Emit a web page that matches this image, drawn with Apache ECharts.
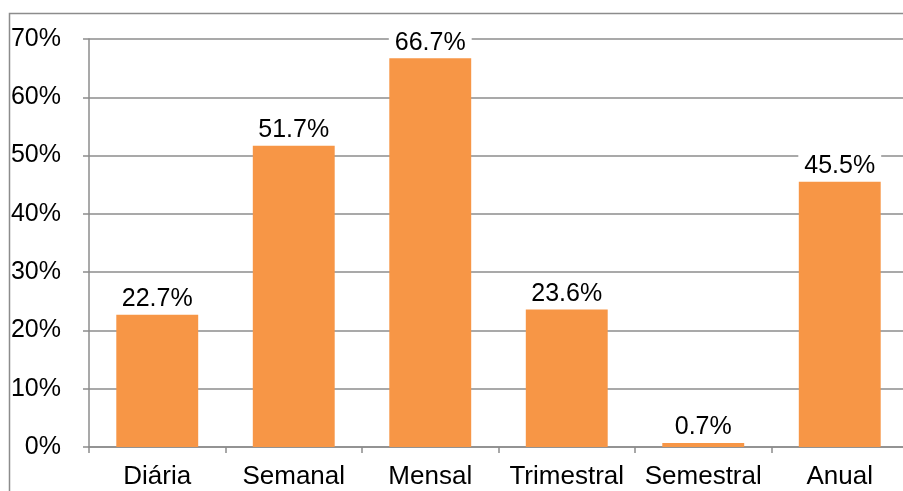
<!DOCTYPE html>
<html>
<head>
<meta charset="utf-8">
<script src="https://cdn.jsdelivr.net/npm/echarts@6/dist/echarts.min.js"></script>
<style>
  html, body { margin: 0; padding: 0; background: #fff; overflow: hidden; width: 903px; height: 491px; }
  #chart { width: 930px; height: 491px; }
</style>
</head>
<body>
<div id="chart"></div>
<script>
// Frequency categories and the share of respondents for each
const categories = ['Diária', 'Semanal', 'Mensal', 'Trimestral', 'Semestral', 'Anual'];
const shares = [22.7, 51.7, 66.7, 23.6, 0.7, 45.5];

// Value axis range (percent)
const yMin = 0;
const yMax = 70;
const yStep = 10;

const FONT = 'Liberation Sans';
const GRAY = '#8c8c8c';

const chart = echarts.init(document.getElementById('chart'), null, { renderer: 'canvas' });

chart.setOption({
  animation: false,
  backgroundColor: '#ffffff',
  // Chart-area frame: only its left and top edges fall inside the view
  graphic: [{
    type: 'polyline',
    shape: { points: [[9.5, 600], [9.5, 13.5], [1000, 13.5]] },
    style: { fill: 'none', stroke: GRAY, lineWidth: 1.5 },
    silent: true
  }],
  grid: { left: 89, top: 39, right: 22, bottom: 44, containLabel: false },
  xAxis: {
    type: 'category',
    data: categories,
    axisLine: { show: true, lineStyle: { color: GRAY, width: 1.5 } },
    axisTick: { show: true, length: 6, alignWithLabel: false, lineStyle: { color: GRAY, width: 1.5 } },
    axisLabel: { color: '#000', fontFamily: FONT, fontSize: 26, margin: 17, interval: 0 },
    splitLine: { show: false }
  },
  yAxis: {
    type: 'value',
    min: yMin,
    max: yMax,
    interval: yStep,
    axisLine: { show: true, lineStyle: { color: GRAY, width: 1.5 } },
    axisTick: { show: true, length: 6, lineStyle: { color: GRAY, width: 1.5 } },
    axisLabel: { color: '#000', fontFamily: FONT, fontSize: 25, margin: 28, formatter: v => v + '%' },
    splitLine: { show: true, lineStyle: { color: GRAY, width: 1.5 } }
  },
  series: [{
    type: 'bar',
    data: shares,
    barCategoryGap: '40%',
    itemStyle: { color: '#F79646' },
    label: {
      show: true,
      position: 'top',
      distance: 3,
      color: '#000',
      fontFamily: FONT,
      fontSize: 25,
      backgroundColor: '#fff',
      padding: [0, 6],
      formatter: p => p.value.toFixed(1) + '%'
    }
  }]
});
</script>
</body>
</html>
